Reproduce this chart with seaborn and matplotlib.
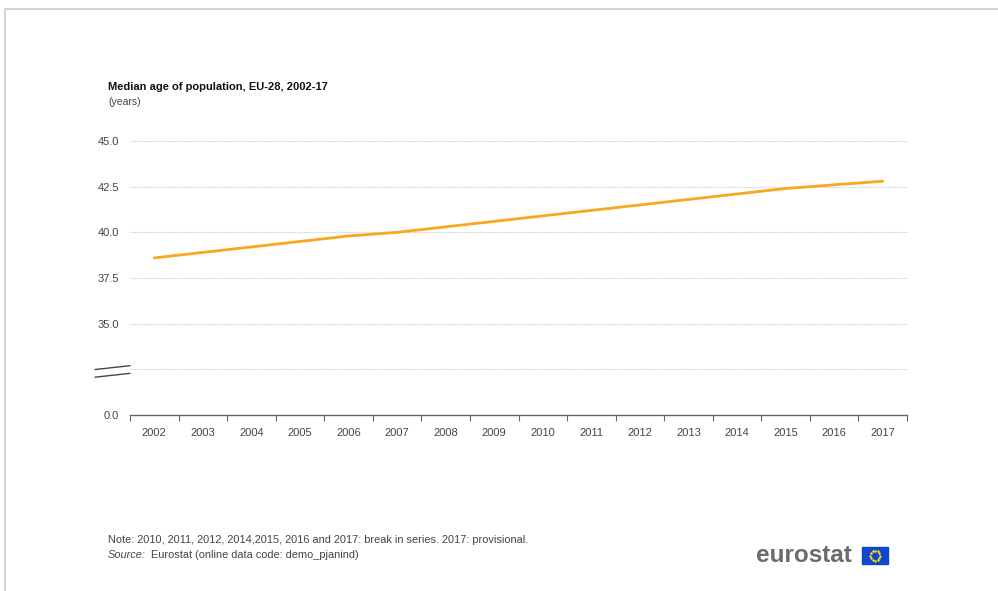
import numpy as np
import pandas as pd
import seaborn as sns
import matplotlib.pyplot as plt
from matplotlib.lines import Line2D
from matplotlib.patches import Rectangle

years = list(range(2002, 2018))
median_age = [38.6, 38.9, 39.2, 39.5, 39.8, 40.0, 40.3, 40.6,
              40.9, 41.2, 41.5, 41.8, 42.1, 42.4, 42.6, 42.8]
ytick_vals = [30.0, 32.5, 35.0, 37.5, 40.0, 42.5, 45.0]
ytick_labels = ['0.0', '', '35.0', '37.5', '40.0', '42.5', '45.0']

df = pd.DataFrame({'year': years, 'median_age': median_age})

sns.set_style('white')
plt.rcParams['font.family'] = ['Liberation Sans', 'DejaVu Sans']

fig = plt.figure(figsize=(9.98, 5.91), dpi=100)
ax = fig.add_axes([130 / 998, 1 - 415 / 591, 777 / 998, 274 / 591])

sns.lineplot(data=df, x='year', y='median_age', ax=ax, color='#F8A81F', linewidth=2.0)

ax.set_xlim(2001.5, 2017.5)
ax.set_ylim(30, 45)
ax.set_xticks(years)
ax.set_xticklabels([str(y) for y in years], fontsize=8, color='#444444')
ax.set_xticks(np.arange(2001.5, 2018, 1), minor=True)
ax.tick_params(axis='x', which='major', length=0, pad=9)
ax.tick_params(axis='x', which='minor', bottom=True, length=4, width=0.8,
               color='#666666', direction='out')
ax.set_yticks(ytick_vals)
ax.set_yticklabels(ytick_labels, fontsize=8, color='#444444')
ax.tick_params(axis='y', length=0, pad=8)
ax.set_xlabel('')
ax.set_ylabel('')

for v in ytick_vals[1:]:
    ax.axhline(v, color='#c8c8c8', linewidth=0.8, linestyle=(0, (1, 1)), zorder=0)

for s in ['top', 'right', 'left']:
    ax.spines[s].set_visible(False)
ax.spines['bottom'].set_color('#666666')
ax.spines['bottom'].set_linewidth(1.0)

# axis break marks
for dy in (0.016, -0.012):
    ax.plot([-0.045, 0.0], [0.16 + dy - 0.01, 0.16 + dy + 0.004], transform=ax.transAxes,
            color='#444444', linewidth=1.0, clip_on=False)

fig.text(108 / 998, 1 - 87 / 591, 'Median age of population, EU-28, 2002-17',
         fontsize=8, fontweight='bold', color='#111111', va='center')
fig.text(108 / 998, 1 - 102 / 591, '(years)', fontsize=7.5, color='#444444', va='center')

fig.text(108 / 998, 1 - 540 / 591,
         'Note: 2010, 2011, 2012, 2014,2015, 2016 and 2017: break in series. 2017: provisional.',
         fontsize=7.9, color='#444444', va='center')
fig.text(108 / 998, 1 - 555 / 591, 'Source:', fontsize=7.9, color='#444444',
         va='center', style='italic')
fig.text(151 / 998, 1 - 555 / 591, 'Eurostat (online data code: demo_pjanind)',
         fontsize=7.9, color='#444444', va='center')

# eurostat logo
fig.text(756 / 998, 1 - 555 / 591, 'eurostat', fontsize=17.5, fontweight='bold',
         color='#6b6b6b', va='center')
fig.patches.append(Rectangle((862 / 998, 1 - 564 / 591), 26 / 998, 17 / 591,
                             transform=fig.transFigure, color='#0E47CB', figure=fig))
ang = np.linspace(0, 2 * np.pi, 12, endpoint=False)
cx, cy = 875, 555.5
fig.lines.append(Line2D((cx + 5 * np.cos(ang)) / 998, 1 - (cy + 5 * np.sin(ang)) / 591,
                        transform=fig.transFigure, linestyle='none', marker='o',
                        markersize=0.8, color='#FFDD00', figure=fig))

# outer frame
fig.lines.append(Line2D([5 / 998, 5 / 998, 1.0], [0.0, 1 - 8.5 / 591, 1 - 8.5 / 591],
                        transform=fig.transFigure, color='#cccccc', linewidth=1.2, figure=fig))

fig.savefig('out.png', dpi=100)
